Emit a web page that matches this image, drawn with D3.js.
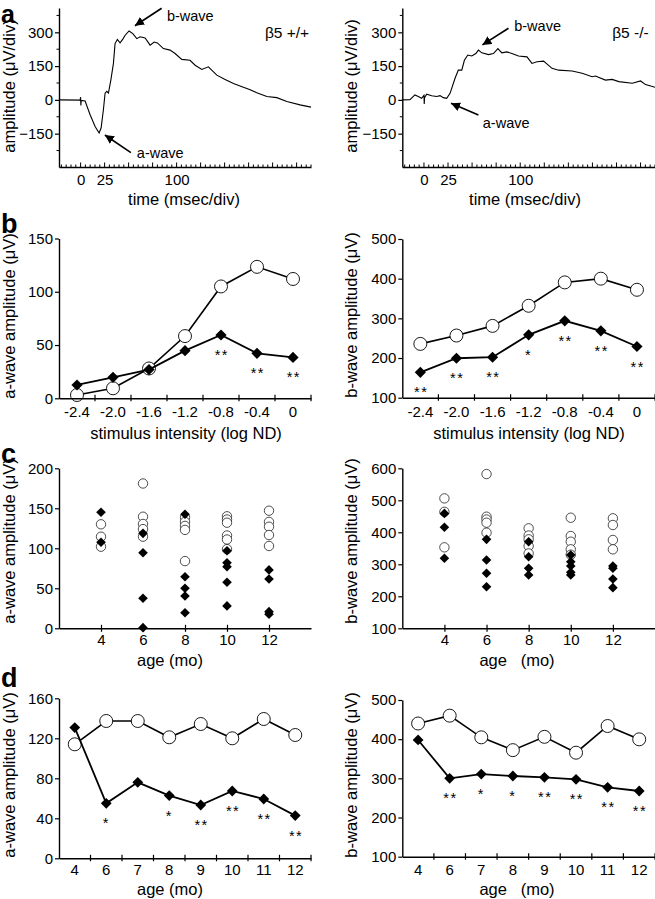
<!DOCTYPE html>
<html><head><meta charset="utf-8">
<script src="https://cdn.jsdelivr.net/npm/d3@7"></script>
<style>body{margin:0;background:#fff}</style>
</head><body><svg id="c" width="655" height="899"></svg>
<script>
// ---------------- DATA ----------------
// Panel a: ERG traces (time ms, amplitude µV)
const traceTimeWT = [-22.4,-0.5,0,0.3,0.6,4.7,9.9,15.1,19.3,21.4,23.75,25.5,27.3,29,31.5,34.2,35.9,38.3,41.1,44,46.4,50.5,54.4,58.5,62,67.2,72.4,76.6,80,86.25,93.2,98.4,105.4,114,119.3,126.25,133.1,141.9,150,159.2,169.6,176,183.5,194,204.4,214.8,228.6,240];
const traceAmpWT  = [0,-1,12,-25,-2,-5,-66,-118,-147,-124,-44,30,38,30,88,162,250,268,253,270,287,306,294,272,280,275,243,257,253,228,221,206,180,176,154,135,147,110,92,73,56,46,32,15,10,-7,-22,-32];
const traceTimeKO = [-22.6,-14.6,-9.4,-5.9,-2.4,0,0.3,0.6,2.8,8,13.2,16.7,20.1,23.6,27.1,32.3,35.7,39.3,42,45.5,49.7,53.9,56.6,60.1,67,72.2,76.8,80.9,86.1,91.4,98.2,107,112.2,117.4,124.3,133,139.9,153.9,164.3,174.7,178.1,188.5,195.5,202.4,216.4,225,230.2,240];
const traceAmpKO  = [0,1,22,15,7,20,-18,10,25,18,15,19,10,7,29,96,132,132,176,199,195,206,221,209,201,206,228,209,213,206,195,191,162,169,172,140,132,128,118,103,106,88,91,81,74,84,68,56];
const aYTicks = [-150,0,150,300];
const aXLabels = [0,25,100];

// Panel b: intensity series
const intensity = ["-2.4","-2.0","-1.6","-1.2","-0.8","-0.4","0"];
const bAwaveWT = [3.1,9.4,28,58.4,105,123.4,112];
const bAwaveKO = [12.5,19.7,27,44.7,59.4,42.2,38.4];
const bAwaveSig = ["","","","","**","**","**"];
const bBwaveWT = [235.6,256.7,281,331.7,390.6,400,372];
const bBwaveKO = [164,199.4,202,258.4,293.8,268.5,229];
const bBwaveSig = ["**","**","**","*","**","**","**"];

// Panel c: individual animals by age
const cAges = [4,6,8,10,12];
const cAwaveWT = [[130,114.5,102],[181,139.5,130.4,124,114.5],[138.7,133,128,123,84],[140,136,132,116,111,99],[147,133,127,116.6,102.9]];
const cAwaveKO = [[145,107.5],[118.7,94.5,37.5,0.8],[142.5,64.5,50,40.4,19.5],[97,82,77,57.5,28],[73,61.6,20.8,17.5]];
const cBwaveWT = [[506,464,353],[582,448.8,440,430,398.8],[412.5,390,378,357,334],[445.6,388.4,370.6,346.8,330],[443.7,422.8,376,346.8]];
const cBwaveKO = [[459,415.6,318.7],[378,313.4,271.9,230],[370.6,323.8,287.5,266.6],[329,308,294.7,275,266.6],[294.7,287.5,254,227]];

// Panel d: mean by age
const dAges = ["4","6","7","8","9","10","11","12"];
const dAwaveWT = [114,137.3,137.3,121,134.3,120,139.3,123.3];
const dAwaveKO = [130.7,55,76,62.7,53.3,67.3,59.3,42.7];
const dAwaveSig = ["","*","","*","**","**","**","**"];
const dBwaveWT = [440,460,404.7,372,406,365.5,433.6,399.6];
const dBwaveKO = [398,300,311,306,302.5,297.4,277,267.7];
const dBwaveSig = ["","**","*","*","**","**","**","**"];

// ---------------- DRAW ----------------
const FONT = '"Liberation Sans", Arial, Helvetica, sans-serif';
const svg = d3.select("#c").attr("font-family", FONT);
svg.append("defs").append("marker").attr("id","arr").attr("viewBox","0 0 10 10")
  .attr("refX",10).attr("refY",5).attr("markerWidth",9).attr("markerHeight",9)
  .attr("markerUnits","userSpaceOnUse").attr("orient","auto")
  .append("path").attr("d","M0,0 L10,5 L0,10 z").attr("fill","#000");

const LX = [59, 311], RX = [402.3, 655];

function styleAxis(g, fs){
  g.attr("font-family", FONT).attr("font-size", fs || 15);
  g.select(".domain").attr("stroke","#000").attr("stroke-width",1.4);
  g.selectAll(".tick line").attr("stroke","#000").attr("stroke-width",1.2);
  g.selectAll(".tick text").attr("fill","#000");
}
function yAxis(x0, y, ticks){
  const g = svg.append("g").attr("transform",`translate(${x0},0)`)
    .call(d3.axisLeft(y).tickValues(ticks).tickSize(4).tickPadding(2).tickSizeOuter(0));
  styleAxis(g);
  return g;
}
function yTitle(x, yc, txt){
  svg.append("text").attr("transform",`translate(${x},${yc}) rotate(-90)`)
    .attr("text-anchor","middle").attr("font-size",16.5).text(txt);
}
function xTitle(xc, yb, txt){
  svg.append("text").attr("x",xc).attr("y",yb).attr("text-anchor","middle")
    .attr("font-size",16.5).attr("xml:space","preserve").style("white-space","pre").text(txt);
}
function panelLabel(x, y, t, fs){
  svg.append("text").attr("x",x).attr("y",y).attr("font-size",fs || 27).attr("font-weight","bold").text(t);
}
function diamond(g, cx, cy, r){
  g.append("path").attr("d",`M${cx},${cy-r}L${cx+r},${cy}L${cx},${cy+r}L${cx-r},${cy}Z`).attr("fill","#000");
}
// band x-axis with boundary ticks
function bandAxis(x, yPix, pad){
  const g = svg.append("g").attr("transform",`translate(0,${yPix})`)
    .call(d3.axisBottom(x).tickSize(0).tickPadding(pad).tickSizeOuter(0));
  styleAxis(g);
  const edges = x.domain().slice(1).map(c => x(c)).concat([x.range()[1]]);
  g.selectAll(".bt").data(edges).enter().append("line")
    .attr("x1",d=>d).attr("x2",d=>d).attr("y1",-3.5).attr("y2",3)
    .attr("stroke","#000").attr("stroke-width",1.2);
}
function seriesPanel(xr, yr, ydom, yticks, cats, wt, ko, sig, r1, r2){
  const x = d3.scaleBand().domain(cats).range(xr).padding(0);
  const y = d3.scaleLinear().domain(ydom).range(yr);
  const cx = c => x(c) + x.bandwidth()/2;
  const line = d3.line().x((d,i)=>cx(cats[i])).y(d=>y(d));
  svg.append("path").datum(wt).attr("d",line).attr("fill","none").attr("stroke","#000").attr("stroke-width",1.6);
  const g = svg.append("g");
  wt.forEach((v,i)=>{
    g.append("circle").attr("cx",cx(cats[i])).attr("cy",y(v)).attr("r",r1)
      .attr("fill","#fff").attr("stroke","#000").attr("stroke-width",0.9);
  });
  svg.append("path").datum(ko).attr("d",line).attr("fill","none").attr("stroke","#000").attr("stroke-width",1.8);
  const g2 = svg.append("g");
  ko.forEach((v,i)=>{
    diamond(g2, cx(cats[i]), y(v), r2);
    if (sig[i]) svg.append("text").attr("x",cx(cats[i])+ (sig[i].length>1?0.8:0)).attr("y",y(v)+25)
      .attr("text-anchor","middle").attr("font-size",14.5).attr("letter-spacing",1.5).text(sig[i]);
  });
  return {x,y};
}
function scatterPanel(xr, yr, ydom, yticks, wt, ko){
  const x = d3.scaleLinear().domain([2,14]).range(xr);
  const y = d3.scaleLinear().domain(ydom).range(yr);
  const g = svg.append("g");
  wt.forEach((arr,i)=>arr.forEach(v=>{
    g.append("circle").attr("cx",x(cAges[i])).attr("cy",y(v)).attr("r",4.7)
      .attr("fill","#fff").attr("stroke","#222").attr("stroke-width",0.8);
  }));
  ko.forEach((arr,i)=>arr.forEach(v=> diamond(g, x(cAges[i]), y(v), 4.8)));
  yAxis(xr[0], y, yticks);
  const ga = svg.append("g").attr("transform",`translate(0,${yr[0]})`)
    .call(d3.axisBottom(x).tickValues(cAges).tickSize(3).tickPadding(3.5).tickSizeOuter(0));
  styleAxis(ga);
  ga.selectAll(".tick line").attr("y1",-3.5).attr("y2",3.5);
}

// ===== Panel a =====
function tracePanel(xr, times, amps, ann){
  const x = d3.scaleLinear().domain([-22.5, 240]).range(xr);
  const y = d3.scaleLinear().domain([-298, 408]).range([167, 8]);
  const line = d3.line().x((d,i)=>x(times[i])).y(d=>y(d));
  svg.append("path").datum(amps).attr("d",line).attr("fill","none").attr("stroke","#000").attr("stroke-width",1.1);
  const gy = svg.append("g").attr("transform",`translate(${xr[0]},0)`)
    .call(d3.axisLeft(y).tickValues(aYTicks).tickSize(4).tickPadding(2).tickSizeOuter(0));
  styleAxis(gy);
  gy.selectAll(".minor").data(d3.range(-225, 400, 150)).enter().append("line")
    .attr("x1",-2.5).attr("x2",0).attr("y1",d=>y(d)).attr("y2",d=>y(d)).attr("stroke","#000").attr("stroke-width",1);
  const gx = svg.append("g").attr("transform",`translate(0,167)`)
    .call(d3.axisBottom(x).tickValues(aXLabels).tickSize(0).tickPadding(7).tickSizeOuter(0));
  styleAxis(gx);
  gx.selectAll(".mt").data(d3.range(-20, 241, 5)).enter().append("line")
    .attr("x1",d=>x(d)).attr("x2",d=>x(d)).attr("y1",d=> d%25===0 ? -4.5 : -2.5).attr("y2",0)
    .attr("stroke","#000").attr("stroke-width",1);
  ann.arrows.forEach(a=>{
    svg.append("line").attr("x1",x(a[0])).attr("y1",y(a[1])).attr("x2",x(a[2])).attr("y2",y(a[3]))
      .attr("stroke","#000").attr("stroke-width",1.6).attr("marker-end","url(#arr)");
  });
  ann.texts.forEach(t=>{
    svg.append("text").attr("x",x(t[0])).attr("y",y(t[1])).attr("font-size",t[3]).text(t[2]);
  });
}
tracePanel(LX, traceTimeWT, traceAmpWT, {
  arrows: [[84.4,407,56.6,329],[52.4,-234,25.3,-156]],
  texts: [[89.9,350,"b-wave",14.5],[58.6,-256,"a-wave",14.5],[192,273,"β5 +/+",15.5]]
});
tracePanel(RX, traceTimeKO, traceAmpKO, {
  arrows: [[87.8,318,60.7,244],[56.6,-67,28.1,-15]],
  texts: [[93.75,306,"b-wave",14.5],[61.1,-125,"a-wave",14.5],[195.5,273,"β5 -/-",15.5]]
});
yTitle(15, 86, "amplitude (μV/div)");
yTitle(357, 86, "amplitude (μV/div)");
xTitle(184, 205, "time (msec/div)");
xTitle(525, 205, "time (msec/div)");
panelLabel(1, 23, "a", 25);

// ===== Panel b =====
const bL = seriesPanel(LX, [398.3, 238.5], [0,150], [0,50,100,150], intensity, bAwaveWT, bAwaveKO, bAwaveSig, 6.5, 5.6);
yAxis(LX[0], bL.y, [0,50,100,150]);
bandAxis(bL.x, 398.3, 8);
const bR = seriesPanel(RX, [397.7, 239], [100,500], [100,200,300,400,500], intensity, bBwaveWT, bBwaveKO, bBwaveSig, 6.5, 5.6);
yAxis(RX[0], bR.y, [100,200,300,400,500]);
bandAxis(bR.x, 397.7, 8.5);
yTitle(15, 316, "a-wave amplitude (μV)");
yTitle(357, 315, "b-wave amplitude (μV)");
xTitle(186, 439, "stimulus intensity (log ND)");
xTitle(529, 439, "stimulus intensity (log ND)");
panelLabel(1, 233, "b");

// ===== Panel c =====
scatterPanel(LX, [628.3, 468.3], [0,200], [0,50,100,150,200], cAwaveWT, cAwaveKO);
scatterPanel(RX, [628.3, 468.3], [100,600], [100,200,300,400,500,600], cBwaveWT, cBwaveKO);
yTitle(15, 541, "a-wave amplitude (μV)");
yTitle(357, 541, "b-wave amplitude (μV)");
xTitle(170, 666, "age (mo)");
xTitle(517, 666, "age   (mo)");
panelLabel(1, 463, "c");

// ===== Panel d =====
const dL = seriesPanel(LX, [858.3, 698.3], [0,160], [0,40,80,120,160], dAges, dAwaveWT, dAwaveKO, dAwaveSig, 6.5, 5.4);
yAxis(LX[0], dL.y, [0,40,80,120,160]);
bandAxis(dL.x, 858.3, 6.5);
const dR = seriesPanel(RX, [856.7, 700], [100,500], [100,200,300,400,500], dAges, dBwaveWT, dBwaveKO, dBwaveSig, 6.5, 5.4);
yAxis(RX[0], dR.y, [100,200,300,400,500]);
bandAxis(dR.x, 856.7, 8);
yTitle(15, 775, "a-wave amplitude (μV)");
yTitle(357, 775, "b-wave amplitude (μV)");
xTitle(170, 895, "age (mo)");
xTitle(517, 895, "age   (mo)");
panelLabel(1, 687, "d");
</script></body></html>
